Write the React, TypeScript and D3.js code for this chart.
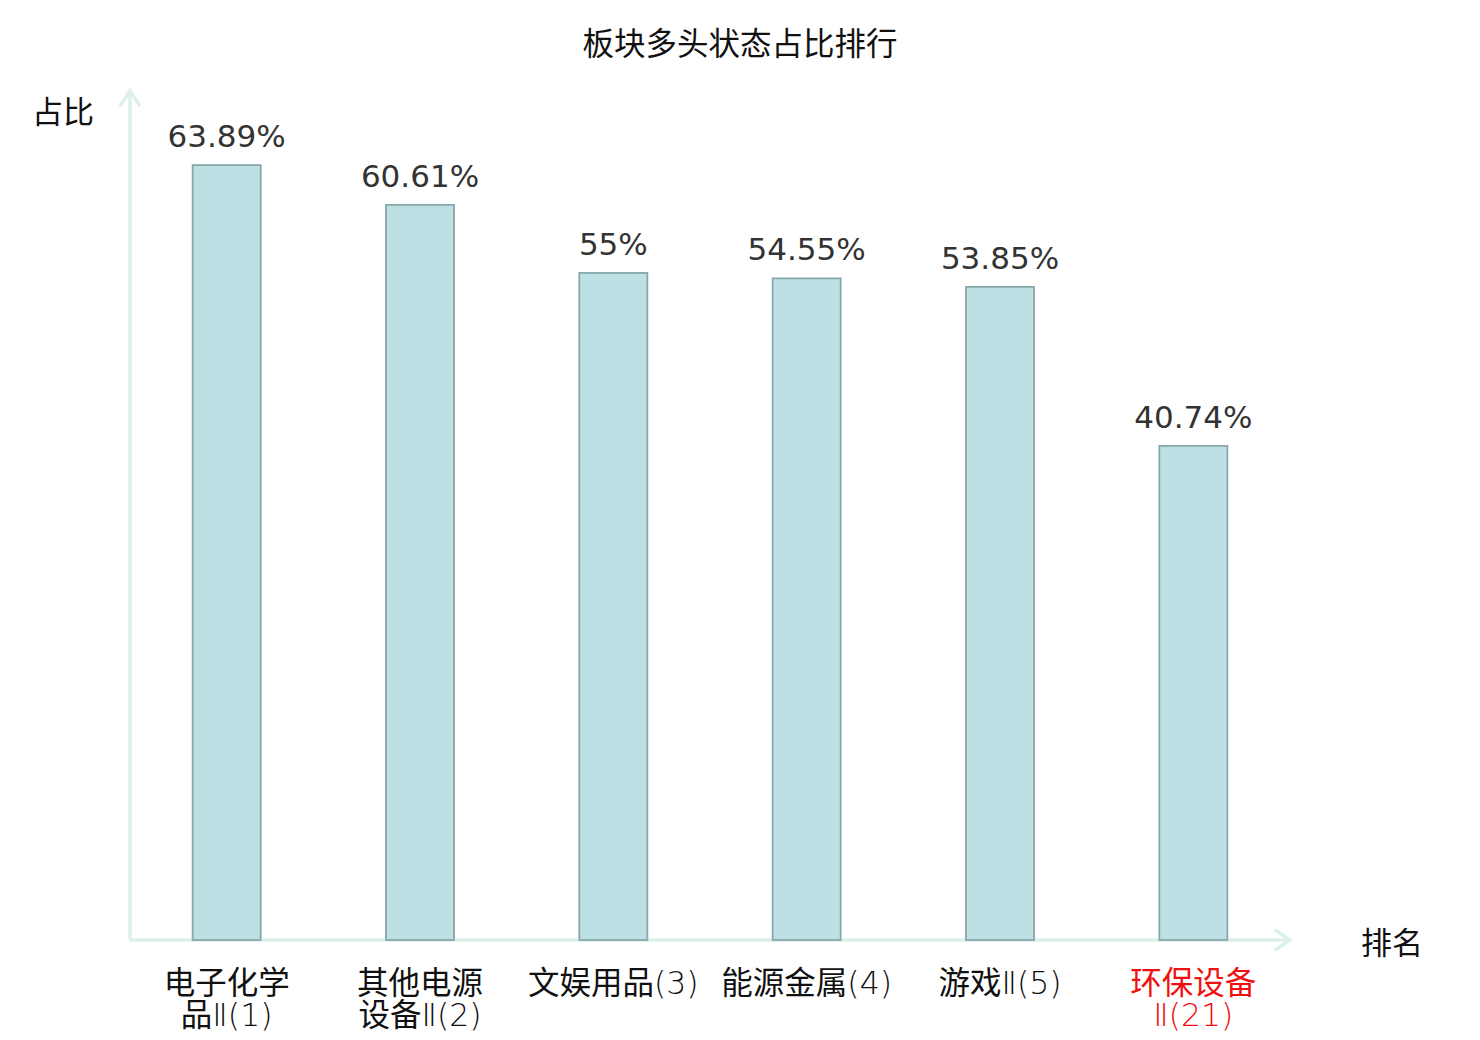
import React from "react";
import * as d3 from "d3";

const categories: string[][] = [
  ["电子化学", "品Ⅱ(1)"],
  ["其他电源", "设备Ⅱ(2)"],
  ["文娱用品(3)"],
  ["能源金属(4)"],
  ["游戏Ⅱ(5)"],
  ["环保设备", "Ⅱ(21)"],
];
const values: number[] = [63.89, 60.61, 55, 54.55, 53.85, 40.74];
const valueLabels: string[] = ["63.89%", "60.61%", "55%", "54.55%", "53.85%", "40.74%"];
const highlight: boolean[] = [false, false, false, false, false, true];

const W = 1480;
const H = 1040;
const x0 = 130;
const x1 = 1290;
const yBase = 940;
const yTop = 91;
const CJK = "'Noto Sans CJK SC', 'Noto Sans', sans-serif";

function segments(s: string): { t: string; cjk: boolean }[] {
  const out: { t: string; cjk: boolean }[] = [];
  for (const ch of s) {
    const cjk = /[\u4e00-\u9fff]/.test(ch);
    const last = out[out.length - 1];
    if (last && last.cjk === cjk) last.t += ch;
    else out.push({ t: ch, cjk });
  }
  return out;
}

export default function App() {
  const idx = categories.map((_, i) => String(i));
  const x = d3.scaleBand<string>().domain(idx).range([x0, x1]).paddingInner(0).paddingOuter(0);
  const y = d3.scaleLinear().domain([0, 70]).range([yBase, yTop]);
  const bw = x.bandwidth() * 0.352;
  const axisColor = "#dcf1ee";

  return (
    <svg
      width={W}
      height={H}
      style={{ position: "absolute", left: 0, top: 0, background: "#fff" }}
    >
      <text x={740} y={41} textAnchor="middle" dominantBaseline="central" fontFamily={CJK} fontSize={31.5} fill="#111">
        板块多头状态占比排行
      </text>

      {/* axes */}
      <line x1={x0} y1={yBase} x2={x0} y2={yTop} stroke={axisColor} strokeWidth={3.5} />
      <polyline
        points={`${x0 - 10},${yTop + 15} ${x0},${yTop} ${x0 + 10},${yTop + 15}`}
        fill="none"
        stroke={axisColor}
        strokeWidth={3.5}
      />
      <line x1={x0} y1={yBase} x2={x1} y2={yBase} stroke={axisColor} strokeWidth={3.5} />
      <polyline
        points={`${x1 - 15},${yBase - 10} ${x1},${yBase} ${x1 - 15},${yBase + 10}`}
        fill="none"
        stroke={axisColor}
        strokeWidth={3.5}
      />

      <text x={63} y={109} textAnchor="middle" dominantBaseline="central" fontFamily={CJK} fontSize={31} fill="#111">
        占比
      </text>
      <text x={1392} y={940} textAnchor="middle" dominantBaseline="central" fontFamily={CJK} fontSize={31} fill="#111">
        排名
      </text>

      {values.map((v, i) => {
        const cx = (x(String(i)) as number) + x.bandwidth() / 2;
        return (
          <g key={i}>
            <rect
              x={cx - bw / 2}
              y={y(v)}
              width={bw}
              height={yBase - y(v)}
              fill="#bce0e3"
              stroke="#88a8a9"
              strokeWidth={1.8}
            />
            <text
              x={cx}
              y={y(v) - 18}
              textAnchor="middle"
              fontFamily="'DejaVu Sans', sans-serif"
              fontSize={31}
              fill="#333"
            >
              {valueLabels[i]}
            </text>
            {categories[i].map((line, j) => (
              <text
                key={j}
                x={cx}
                y={994 + j * 32}
                textAnchor="middle"
                fontSize={31.5}
                fill={highlight[i] ? "#f01010" : "#111"}
              >
                {segments(line).map((s, k) => (
                  <tspan
                    key={k}
                    fontFamily={s.cjk ? CJK : "'DejaVu Sans', sans-serif"}
                    fontWeight={s.cjk ? 400 : 200}
                  >
                    {s.t}
                  </tspan>
                ))}
              </text>
            ))}
          </g>
        );
      })}
    </svg>
  );
}
